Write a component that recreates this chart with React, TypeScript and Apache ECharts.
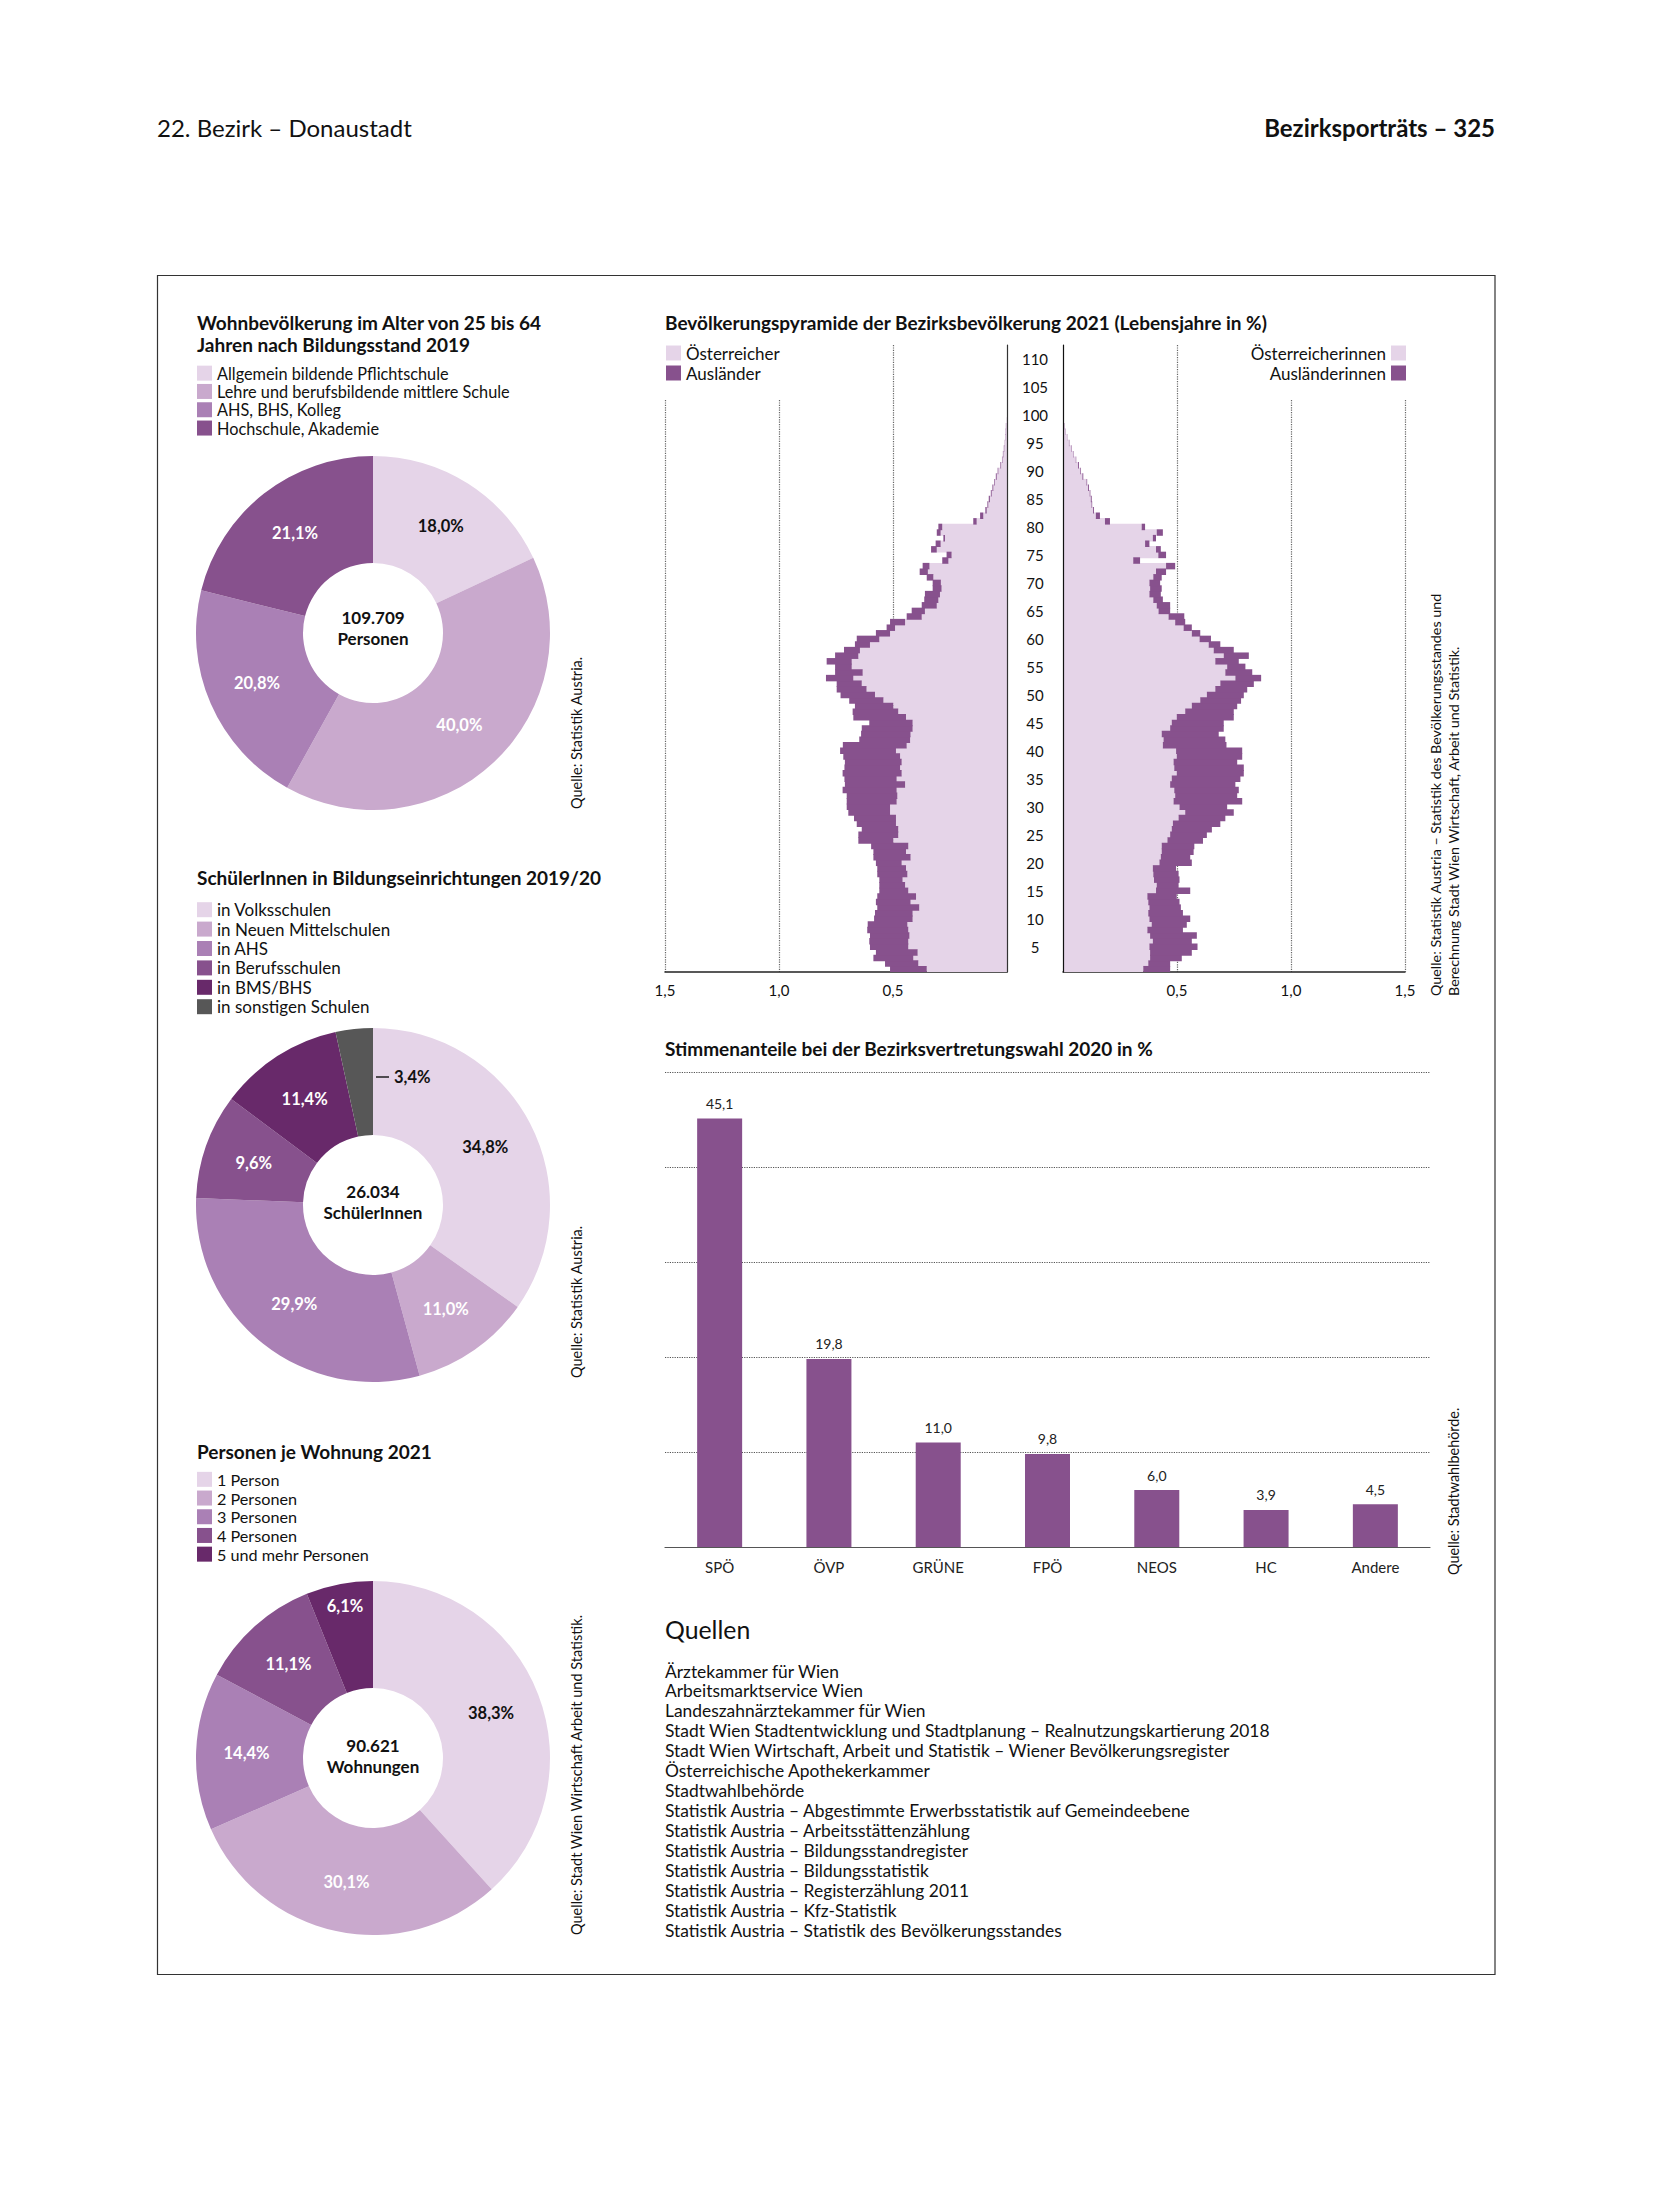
import React, { useEffect, useRef } from 'react';
import * as echarts from 'echarts';

const FONT = 'Lato, "Noto Sans", "DejaVu Sans", sans-serif';
const C_LIGHT = '#e5d4e8';
const C_MID1 = '#c9a9cd';
const C_MID2 = '#aa80b5';
const C_DARK = '#87518d';
const C_DARKER = '#68296a';
const C_GREY = '#575757';

// ---- Donut 1: Bildungsstand
const bildungNames = ['Allgemein bildende Pflichtschule', 'Lehre und berufsbildende mittlere Schule', 'AHS, BHS, Kolleg', 'Hochschule, Akademie'];
const bildungValues = [18.0, 40.0, 20.8, 21.1];
const bildungTotal = ['109.709', 'Personen'];

// ---- Donut 2: SchülerInnen
const schulNames = ['in Volksschulen', 'in Neuen Mittelschulen', 'in AHS', 'in Berufsschulen', 'in BMS/BHS', 'in sonstigen Schulen'];
const schulValues = [34.8, 11.0, 29.9, 9.6, 11.4, 3.4];
const schulTotal = ['26.034', 'SchülerInnen'];

// ---- Donut 3: Personen je Wohnung
const wohnNames = ['1 Person', '2 Personen', '3 Personen', '4 Personen', '5 und mehr Personen'];
const wohnValues = [38.3, 30.1, 14.4, 11.1, 6.1];
const wohnTotal = ['90.621', 'Wohnungen'];

// ---- Bar chart: Bezirksvertretungswahl 2020
const parteien = ['SPÖ', 'ÖVP', 'GRÜNE', 'FPÖ', 'NEOS', 'HC', 'Andere'];
const stimmen = [45.1, 19.8, 11.0, 9.8, 6.0, 3.9, 4.5];

// ---- Pyramid: Lebensjahre (categories) and shares in %
const lebensjahre = Array.from({ length: 112 }, (_, i) => String(i + 1));
const pyramidTicks = [0, 0.5, 1.0, 1.5];

const oesterreicher = [
  0.352, 0.389, 0.411, 0.392, 0.433, 0.433, 0.428, 0.433, 0.437, 0.414,
  0.414, 0.385, 0.423, 0.399, 0.433, 0.447, 0.458, 0.437, 0.443, 0.462,
  0.423, 0.443, 0.433, 0.499, 0.477, 0.477, 0.487, 0.487, 0.513, 0.513,
  0.484, 0.481, 0.484, 0.447, 0.484, 0.462, 0.469, 0.462, 0.469, 0.487,
  0.44, 0.425, 0.423, 0.414, 0.414, 0.443, 0.477, 0.499, 0.542, 0.579,
  0.616, 0.637, 0.674, 0.633, 0.681, 0.681, 0.652, 0.645, 0.601, 0.56,
  0.513, 0.491, 0.447, 0.374, 0.36, 0.308, 0.301, 0.294, 0.287, 0.29,
  0.323, 0.347, 0.34, 0.257, 0.243, 0.308, 0.291, 0.272, 0.291, 0.284,
  0.133, 0.104, 0.089, 0.082, 0.075, 0.067, 0.06, 0.053, 0.045, 0.038,
  0.026, 0.02, 0.016, 0.012, 0.009, 0.007, 0.006, 0.004, 0.002,
];
const auslaender = [
  0.161, 0.146, 0.175, 0.183, 0.168, 0.171, 0.173, 0.18, 0.174, 0.169,
  0.165, 0.184, 0.152, 0.17, 0.127, 0.113, 0.102, 0.132, 0.126, 0.113,
  0.163, 0.143, 0.163, 0.153, 0.175, 0.16, 0.172, 0.184, 0.183, 0.19,
  0.219, 0.222, 0.237, 0.264, 0.229, 0.259, 0.244, 0.249, 0.249, 0.245,
  0.28, 0.223, 0.217, 0.223, 0.19, 0.231, 0.2, 0.168, 0.15, 0.151,
  0.131, 0.11, 0.12, 0.121, 0.073, 0.11, 0.102, 0.07, 0.066, 0.099,
  0.062, 0.037, 0.066, 0.066, 0.058, 0.066, 0.062, 0.066, 0.039, 0.036,
  0.029, 0.036, 0.03, 0.027, 0.022, 0.025, 0.022, 0.007, 0.017, 0.017,
  0.015, 0.014, 0.006, 0.004, 0.005, 0.004, 0.004, 0.003, 0.004, 0.003,
  0.003, 0.002, 0.002, 0.002, 0.001, 0.001, 0.001, 0.001, 0,
];
const oesterreicherinnen = [
  0.352, 0.374, 0.382, 0.382, 0.379, 0.394, 0.382, 0.37, 0.389, 0.379,
  0.374, 0.379, 0.374, 0.37, 0.408, 0.411, 0.399, 0.396, 0.394, 0.423,
  0.429, 0.433, 0.433, 0.458, 0.47, 0.477, 0.482, 0.507, 0.536, 0.511,
  0.485, 0.492, 0.488, 0.47, 0.477, 0.499, 0.488, 0.485, 0.499, 0.496,
  0.438, 0.441, 0.433, 0.47, 0.477, 0.499, 0.536, 0.565, 0.602, 0.631,
  0.668, 0.69, 0.756, 0.712, 0.72, 0.668, 0.705, 0.661, 0.639, 0.599,
  0.565, 0.529, 0.492, 0.463, 0.419, 0.411, 0.396, 0.379, 0.382, 0.379,
  0.396, 0.408, 0.452, 0.308, 0.418, 0.408, 0.36, 0.394, 0.411, 0.345,
  0.184, 0.144, 0.132, 0.125, 0.122, 0.117, 0.11, 0.103, 0.085, 0.076,
  0.066, 0.056, 0.044, 0.037, 0.026, 0.019, 0.012, 0.007, 0.003,
];
const auslaenderinnen = [
  0.118, 0.096, 0.139, 0.183, 0.211, 0.171, 0.205, 0.156, 0.154, 0.179,
  0.152, 0.138, 0.137, 0.129, 0.15, 0.096, 0.112, 0.111, 0.102, 0.142,
  0.129, 0.14, 0.143, 0.156, 0.161, 0.176, 0.208, 0.205, 0.213, 0.209,
  0.301, 0.272, 0.283, 0.286, 0.301, 0.294, 0.305, 0.279, 0.287, 0.29,
  0.279, 0.271, 0.25, 0.235, 0.228, 0.25, 0.213, 0.199, 0.179, 0.162,
  0.14, 0.147, 0.113, 0.118, 0.08, 0.103, 0.11, 0.088, 0.051, 0.05,
  0.037, 0.036, 0.044, 0.069, 0.051, 0.059, 0.042, 0.05, 0.051, 0.047,
  0.037, 0.044, 0.04, 0.03, 0.034, 0.021, 0.019, 0.014, 0.027, 0.015,
  0.022, 0.018, 0.004, 0.003, 0.004, 0.003, 0.004, 0.003, 0.004, 0.003,
  0.004, 0.002, 0.002, 0.002, 0.002, 0.001, 0.001, 0.001, 0,
];

const quellen = [
  'Ärztekammer für Wien',
  'Arbeitsmarktservice Wien',
  'Landeszahnärztekammer für Wien',
  'Stadt Wien Stadtentwicklung und Stadtplanung – Realnutzungskartierung 2018',
  'Stadt Wien Wirtschaft, Arbeit und Statistik – Wiener Bevölkerungsregister',
  'Österreichische Apothekerkammer',
  'Stadtwahlbehörde',
  'Statistik Austria – Abgestimmte Erwerbsstatistik auf Gemeindeebene',
  'Statistik Austria – Arbeitsstättenzählung',
  'Statistik Austria – Bildungsstandregister',
  'Statistik Austria – Bildungsstatistik',
  'Statistik Austria – Registerzählung 2011',
  'Statistik Austria – Kfz-Statistik',
  'Statistik Austria – Statistik des Bevölkerungsstandes',
];

const fmt = (v: number) => v.toFixed(1).replace('.', ',');

const txt = (x: number, y: number, text: string, size: number, o: any = {}) => ({
  type: 'text',
  x,
  y,
  z: 100,
  rotation: o.rot || 0,
  silent: true,
  style: {
    text,
    fontSize: size,
    fontFamily: FONT,
    fontWeight: o.bold ? 'bold' : 'normal',
    fill: o.fill || '#111',
    align: o.align || 'left',
    verticalAlign: o.va || 'middle',
  },
});

function pieSeries(names: string[], values: number[], colors: string[], labelColors: string[], center: number[], hidden: number[] = []) {
  return {
    type: 'pie',
    radius: [70, 177],
    center,
    startAngle: 90,
    clockwise: true,
    silent: true,
    avoidLabelOverlap: false,
    label: {
      show: true,
      position: 'inside',
      fontFamily: FONT,
      fontWeight: 'bold',
      fontSize: 16.5,
      formatter: (p: any) => fmt(p.value) + '%',
    },
    labelLine: { show: false },
    emphasis: { disabled: true },
    data: names.map((n, i) => ({
      name: n,
      value: values[i],
      itemStyle: { color: colors[i], borderWidth: 0 },
      label: { color: labelColors[i], show: hidden.indexOf(i) < 0 },
    })),
  };
}

const legendBase = (data: string[], left: any, top: number, lh: number, size: number, extra: any = {}) => ({
  data,
  orient: 'vertical',
  top,
  ...left,
  padding: 0,
  itemWidth: 15,
  itemHeight: 15,
  itemGap: 0,
  icon: 'rect',
  selectedMode: false,
  textStyle: { fontFamily: FONT, fontSize: size, lineHeight: lh, color: '#111' },
  ...extra,
});

const splitColors = (show: boolean[]) => show.map((s) => (s ? '#666' : 'rgba(0,0,0,0)'));

const pyrBar = (name: string, axis: number, stack: string, data: number[], color: string) => ({
  type: 'bar',
  name,
  xAxisIndex: axis,
  yAxisIndex: axis,
  stack,
  data,
  barWidth: '116%',
  barCategoryGap: '0%',
  silent: true,
  itemStyle: { color },
});

function buildOption() {
  const pyrX = (gridIndex: number, inverse: boolean, labels: boolean, lines: boolean[]) => ({
    type: 'value',
    gridIndex,
    inverse,
    min: pyramidTicks[0],
    max: pyramidTicks[pyramidTicks.length - 1],
    interval: 0.5,
    axisLine: { show: labels, lineStyle: { color: '#222', width: 1.5 } },
    axisTick: { show: false },
    axisLabel: {
      show: labels,
      fontFamily: FONT,
      fontSize: 15,
      color: '#111',
      margin: 10,
      formatter: (v: number) => (v === 0 ? '' : fmt(v)),
    },
    splitLine: { show: true, lineStyle: { type: 'dotted', width: 1.2, color: splitColors(lines) } },
  });

  return {
    animation: false,
    backgroundColor: '#ffffff',
    textStyle: { fontFamily: FONT },
    grid: [
      { left: 665, top: 345, width: 342, height: 627 },
      { left: 1063, top: 345, width: 342, height: 627 },
      { left: 665, top: 400, width: 342, height: 572 },
      { left: 1063, top: 400, width: 342, height: 572 },
      { left: 665, top: 1072, width: 765, height: 475 },
    ],
    xAxis: [
      pyrX(0, true, true, [false, true, false, false]),
      pyrX(1, false, true, [false, true, false, false]),
      pyrX(2, true, false, [false, false, true, true]),
      pyrX(3, false, false, [false, false, true, true]),
      {
        type: 'category',
        gridIndex: 4,
        data: parteien,
        axisLine: { lineStyle: { color: '#555', width: 1.2 } },
        axisTick: { show: false },
        axisLabel: { fontFamily: FONT, fontSize: 15, color: '#222', margin: 12 },
      },
    ],
    yAxis: [
      {
        type: 'category',
        gridIndex: 0,
        data: lebensjahre,
        position: 'right',
        z: 5,
        axisLine: { lineStyle: { color: '#333', width: 1.2 } },
        axisTick: { show: false },
        axisLabel: {
          fontFamily: FONT,
          fontSize: 15,
          color: '#111',
          align: 'center',
          margin: 28,
          interval: (idx: number, val: string) => Number(val) % 5 === 0 && Number(val) <= 110,
        },
      },
      {
        type: 'category',
        gridIndex: 1,
        data: lebensjahre,
        position: 'left',
        z: 5,
        axisLine: { lineStyle: { color: '#111', width: 1.2 } },
        axisTick: { show: false },
        axisLabel: { show: false },
      },
      { type: 'value', gridIndex: 2, show: false },
      { type: 'value', gridIndex: 3, show: false },
      {
        type: 'value',
        gridIndex: 4,
        min: 0,
        max: 50,
        interval: 10,
        axisLabel: { show: false },
        axisLine: { show: false },
        axisTick: { show: false },
        splitLine: { lineStyle: { type: 'dotted', color: '#555', width: 1.2 } },
      },
    ],
    legend: [
      legendBase(bildungNames, { left: 197 }, 364, 18.3, 16.3),
      legendBase(schulNames, { left: 197 }, 900, 19.4, 17),
      legendBase(wohnNames, { left: 197 }, 1470, 18.7, 16.2),
      legendBase(['Österreicher', 'Ausländer'], { left: 666 }, 343, 20, 17),
      legendBase(['Österreicherinnen', 'Ausländerinnen'], { right: 248 }, 343, 20, 17, { align: 'right' }),
    ],
    series: [
      pieSeries(bildungNames, bildungValues, [C_LIGHT, C_MID1, C_MID2, C_DARK], ['#111', '#fff', '#fff', '#fff'], [373, 633]),
      pieSeries(schulNames, schulValues, [C_LIGHT, C_MID1, C_MID2, C_DARK, C_DARKER, C_GREY], ['#111', '#fff', '#fff', '#fff', '#fff', '#111'], [373, 1205], [5]),
      pieSeries(wohnNames, wohnValues, [C_LIGHT, C_MID1, C_MID2, C_DARK, C_DARKER], ['#111', '#fff', '#fff', '#fff', '#fff'], [373, 1758], [4]),
      pyrBar('Österreicher', 0, 'm', oesterreicher, C_LIGHT),
      pyrBar('Ausländer', 0, 'm', auslaender, C_DARK),
      pyrBar('Österreicherinnen', 1, 'f', oesterreicherinnen, C_LIGHT),
      pyrBar('Ausländerinnen', 1, 'f', auslaenderinnen, C_DARK),
      {
        type: 'bar', name: 'Stimmenanteil', xAxisIndex: 4, yAxisIndex: 4, data: stimmen, barWidth: 45, silent: true,
        itemStyle: { color: C_DARK },
        label: {
          show: true, position: 'top', distance: 8, fontFamily: FONT, fontSize: 14, color: '#222',
          formatter: (p: any) => fmt(p.value),
        },
      },
    ],
    graphic: [
      txt(157, 127, '22. Bezirk – Donaustadt', 24),
      txt(1495, 127, 'Bezirksporträts – 325', 24, { bold: true, align: 'right' }),
      {
        type: 'rect', silent: true,
        shape: { x: 157.5, y: 275.5, width: 1337.5, height: 1699 },
        style: { fill: 'none', stroke: '#333', lineWidth: 1.2 },
      },
      txt(197, 322, 'Wohnbevölkerung im Alter von 25 bis 64', 19, { bold: true }),
      txt(197, 344, 'Jahren nach Bildungsstand 2019', 19, { bold: true }),
      txt(197, 877, 'SchülerInnen in Bildungseinrichtungen 2019/20', 19, { bold: true }),
      txt(197, 1451, 'Personen je Wohnung 2021', 19, { bold: true }),
      txt(665, 322, 'Bevölkerungspyramide der Bezirksbevölkerung 2021 (Lebensjahre in %)', 19, { bold: true }),
      txt(665, 1048, 'Stimmenanteile bei der Bezirksvertretungswahl 2020 in %', 19, { bold: true }),
      txt(373, 617, bildungTotal[0], 17, { bold: true, align: 'center' }),
      txt(373, 638, bildungTotal[1], 17, { bold: true, align: 'center' }),
      txt(373, 1191, schulTotal[0], 17, { bold: true, align: 'center' }),
      txt(373, 1212, schulTotal[1], 17, { bold: true, align: 'center' }),
      txt(373, 1745, wohnTotal[0], 17, { bold: true, align: 'center' }),
      txt(373, 1766, wohnTotal[1], 17, { bold: true, align: 'center' }),
      {
        type: 'line', silent: true, z: 100,
        shape: { x1: 376, y1: 1077, x2: 389, y2: 1077 },
        style: { stroke: '#111', lineWidth: 1.4 },
      },
      txt(394, 1077, fmt(schulValues[5]) + '%', 16.5, { bold: true }),
      txt(345, 1606, fmt(wohnValues[4]) + '%', 16.5, { bold: true, align: 'center', fill: '#fff' }),
      txt(576, 809, 'Quelle: Statistik Austria.', 14.5, { rot: Math.PI / 2 }),
      txt(576, 1378, 'Quelle: Statistik Austria.', 14.5, { rot: Math.PI / 2 }),
      txt(576, 1935, 'Quelle: Stadt Wien Wirtschaft Arbeit und Statistik.', 14.5, { rot: Math.PI / 2 }),
      txt(1435, 996, 'Quelle: Statistik Austria – Statistik des Bevölkerungsstandes und', 14.3, { rot: Math.PI / 2 }),
      txt(1453, 996, 'Berechnung Stadt Wien Wirtschaft, Arbeit und Statistik.', 14.3, { rot: Math.PI / 2 }),
      txt(1453, 1575, 'Quelle: Stadtwahlbehörde.', 14.4, { rot: Math.PI / 2 }),
      txt(665, 1629, 'Quellen', 24.8),
      ...quellen.map((q, i) => txt(665, 1671 + i * 19.95, q, 17.4)),
    ],
  };
}

export default function App() {
  const ref = useRef<HTMLDivElement>(null);
  useEffect(() => {
    if (!ref.current) return;
    const chart = echarts.init(ref.current, null, { renderer: 'svg' });
    chart.setOption(buildOption() as any);
    return () => chart.dispose();
  }, []);
  return (
    <div
      ref={ref}
      style={{ position: 'absolute', left: 0, top: 0, width: 1654, height: 2205, background: '#fff' }}
    />
  );
}
